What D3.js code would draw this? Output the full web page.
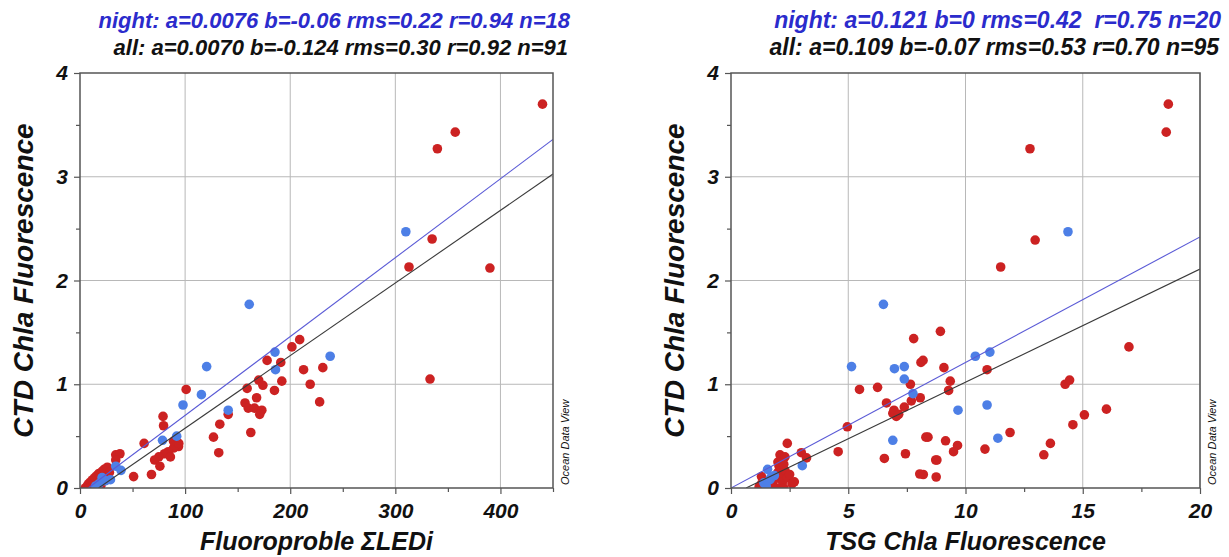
<!DOCTYPE html>
<html><head><meta charset="utf-8">
<script src="https://cdn.jsdelivr.net/npm/d3@7"></script>
<style>body{margin:0;background:#fff}svg{display:block}text{white-space:pre}</style>
</head><body>
<svg id="c" width="1229" height="557"></svg>
<script>
// ---- data ----
const leftNight = [[161,1.77],[310,2.47],[120.5,1.17],[185.5,1.31],[186,1.14],[98,0.80],[115.5,0.90],[141,0.75],[238,1.27],[78.5,0.46],[92,0.50],[34,0.21],[39,0.17],[29,0.08],[24,0.07],[18,0.04],[21,0.10],[15,0.02]];
const leftDay = [[440,3.70],[357,3.43],[340,3.27],[335,2.40],[313,2.13],[390,2.12],[333,1.05],
 [178,1.23],[201.6,1.36],[209,1.43],[191,1.21],[101,0.95],[141,0.71],[159,0.96],[170,1.04],[174,0.99],[192,1.03],[185,0.94],[157,0.82],[160,0.77],[166,0.77],[168,0.87],[173,0.75],[171,0.71],[162.5,0.535],[133,0.615],[127,0.49],[132,0.34],[212.7,1.14],[231,1.16],[219,1.0],[228,0.83],
 [79.5,0.60],[79,0.69],[93.7,0.40],[89,0.385],[84,0.35],[80.4,0.33],[75,0.30],[71,0.27],[76,0.21],[61,0.43],[68,0.13],[51,0.11],[34,0.32],[38,0.33],[34,0.27],[89,0.45],[94,0.43],[86,0.30],
 [5,0.0],[7,0.02],[8,0.04],[9,0.01],[10,0.06],[11,0.03],[12,0.08],[13,0.05],[14,0.10],[15,0.0],[16,0.12],[17,0.07],[18,0.14],[19,0.10],[20,0.03],[21,0.16],[22,0.12],[23,0.18],[25,0.09],[26,0.20],[12,0.0],[19,0.0],[28,0.15]];
const rightNight = [[6.5,1.77],[14.37,2.47],[5.14,1.17],[6.97,1.15],[7.39,1.17],[7.39,1.05],[7.76,0.91],[6.9,0.46],[3.04,0.215],[1.56,0.18],[1.7,0.10],[10.42,1.27],[11.04,1.31],[9.68,0.75],[10.92,0.80],[11.38,0.48],[1.4,0.05],[1.66,0.08],[1.85,0.12],[1.5,0.02]];
const rightDay = [[18.65,3.70],[18.56,3.43],[12.75,3.27],[12.97,2.39],[11.5,2.13],
 [7.79,1.44],[8.19,1.23],[8.1,1.21],[7.65,1.0],[5.48,0.95],[6.25,0.97],[6.63,0.82],[8.07,0.87],[7.69,0.84],[7.39,0.78],[6.9,0.72],[7.05,0.69],[6.95,0.75],[7.15,0.71],[4.96,0.59],[8.4,0.49],[4.57,0.35],[6.54,0.285],[7.44,0.33],[8.2,0.13],[8.75,0.106],[8.78,0.27],[3.0,0.34],[3.22,0.29],[2.4,0.43],[2.09,0.32],[2.3,0.30],[2.05,0.21],
 [8.93,1.51],[9.08,1.16],[10.92,1.14],[9.35,1.03],[9.28,0.94],[14.25,1.0],[14.44,1.04],[16.97,1.36],[16.01,0.76],[15.07,0.705],[14.58,0.61],[8.31,0.49],[11.9,0.535],[9.15,0.455],[9.66,0.41],[9.49,0.35],[10.83,0.375],[13.62,0.43],[13.34,0.32],[8.73,0.27],[8.05,0.135],
 [1.2,0.01],[1.3,0.04],[1.4,0.0],[1.5,0.03],[1.6,0.0],[1.75,0.05],[1.8,0.02],[1.9,0.09],[2.0,0.15],[2.1,0.20],[2.15,0.12],[2.2,0.06],[2.3,0.17],[2.4,0.10],[2.5,0.13],[2.6,0.04],[2.7,0.06],[1.95,0.0],[2.25,0.0],[1.3,0.11],[2.0,0.25],[2.25,0.23]];
const leftXTicks = [0,100,200,300,400];
const leftXMinor = [50,150,250,350,450];
const rightXTicks = [0,5,10,15,20];
const rightXMinor = [2.5,7.5,12.5,17.5];
const yTicks = [0,1,2,3,4];
const yMinor = [0.5,1.5,2.5,3.5];
const leftFit = {night:[0.0076,-0.06], all:[0.0070,-0.124]};
const rightFit = {night:[0.121,0], all:[0.109,-0.07]};
const leftTitles = ["night: a=0.0076 b=-0.06 rms=0.22 r=0.94 n=18","all: a=0.0070 b=-0.124 rms=0.30 r=0.92 n=91"];
const rightTitles = ["night: a=0.121 b=0 rms=0.42  r=0.75 n=20","all: a=0.109 b=-0.07 rms=0.53 r=0.70 n=95"];

// ---- drawing ----
const svg = d3.select("#c");
const FONT = "'Liberation Sans', Arial, sans-serif";
const RED = "#cc2222", BLUE = "#4d7fe6";
const TOP = 73, BOT = 488;

function panel(cfg){
  const x = d3.scaleLinear().domain(cfg.xdom).range(cfg.xr);
  const y = d3.scaleLinear().domain([0,4]).range([BOT,TOP]);
  const g = svg.append("g");
  const clipId = "clip"+cfg.id;
  svg.append("clipPath").attr("id",clipId).append("rect")
    .attr("x",cfg.xr[0]).attr("y",TOP).attr("width",cfg.xr[1]-cfg.xr[0]).attr("height",BOT-TOP);
  // grid
  g.selectAll(".gx").data(cfg.xt.filter(v=>v>cfg.xdom[0])).join("line")
    .attr("x1",d=>x(d)).attr("x2",d=>x(d)).attr("y1",TOP).attr("y2",BOT)
    .attr("stroke","#b8b8b8").attr("stroke-width",1);
  g.selectAll(".gy").data(yTicks.filter(v=>v>0&&v<4)).join("line")
    .attr("y1",d=>y(d)).attr("y2",d=>y(d)).attr("x1",cfg.xr[0]).attr("x2",cfg.xr[1])
    .attr("stroke","#b8b8b8").attr("stroke-width",1);
  // axes
  const xAx = d3.axisBottom(x).tickValues(cfg.xt).tickSize(6).tickPadding(9).tickFormat(d3.format("d"));
  const xAxMin = d3.axisBottom(x).tickValues(cfg.xm).tickSize(4).tickFormat("");
  const yAx = d3.axisLeft(y).tickValues(yTicks).tickSize(6).tickPadding(6).tickFormat(d3.format("d"));
  const yAxMin = d3.axisLeft(y).tickValues(yMinor).tickSize(4).tickFormat("");
  [ [xAx,`translate(0,${BOT})`],[xAxMin,`translate(0,${BOT})`],[yAx,`translate(${cfg.xr[0]},0)`],[yAxMin,`translate(${cfg.xr[0]},0)`] ].forEach(([a,t])=>{
    const ag = g.append("g").attr("transform",t).call(a);
    ag.select(".domain").remove();
    ag.selectAll("line").attr("stroke","#555").attr("stroke-width",1.2);
    ag.selectAll("text").attr("font-family",FONT).attr("font-weight","bold").attr("font-style","italic")
      .attr("font-size",21).attr("fill","#111");
  });
  // points
  const pts = g.append("g").attr("clip-path",`url(#${clipId})`);
  pts.selectAll(".r").data(cfg.day).join("circle").attr("cx",d=>x(d[0])).attr("cy",d=>y(d[1])).attr("r",4.8).attr("fill",RED);
  pts.selectAll(".b").data(cfg.night).join("circle").attr("cx",d=>x(d[0])).attr("cy",d=>y(d[1])).attr("r",4.8).attr("fill",BLUE);
  // fit lines
  const line = (ab,col)=>{
    const [a,b]=ab; const x0 = Math.max(cfg.xdom[0], -b/a), x1 = cfg.xdom[1];
    pts.append("line").attr("x1",x(x0)).attr("y1",y(a*x0+b)).attr("x2",x(x1)).attr("y2",y(a*x1+b))
      .attr("stroke",col).attr("stroke-width",1.1);
  };
  line(cfg.fit.all,"#3a3a3a");
  line(cfg.fit.night,"#5a5ad6");
  // frame
  g.append("rect").attr("x",cfg.xr[0]).attr("y",TOP).attr("width",cfg.xr[1]-cfg.xr[0]).attr("height",BOT-TOP)
    .attr("fill","none").attr("stroke","#555").attr("stroke-width",1.5);
  // titles
  g.append("text").attr("x",cfg.tx).attr("y",28).attr("text-anchor","end").attr("font-family",FONT)
    .attr("font-weight","bold").attr("font-style","italic").attr("font-size",cfg.tfs).attr("fill","#2b2bcc").text(cfg.titles[0]);
  g.append("text").attr("x",cfg.tx-2).attr("y",55).attr("text-anchor","end").attr("font-family",FONT)
    .attr("font-weight","bold").attr("font-style","italic").attr("font-size",cfg.tfs).attr("fill","#111").text(cfg.titles[1]);
  // axis titles
  g.append("text").attr("transform",`translate(${cfg.xr[0]-47},${(TOP+BOT)/2}) rotate(-90)`).attr("text-anchor","middle")
    .attr("font-family",FONT).attr("font-weight","bold").attr("font-style","italic").attr("font-size",28).attr("fill","#111")
    .text("CTD Chla Fluorescence");
  g.append("text").attr("x",(cfg.xr[0]+cfg.xr[1])/2).attr("y",550).attr("text-anchor","middle")
    .attr("font-family",FONT).attr("font-weight","bold").attr("font-style","italic").attr("font-size",25).attr("fill","#111")
    .text(cfg.xlabel);
  g.append("text").attr("transform",`translate(${cfg.xr[1]+16},${BOT-3}) rotate(-90)`).attr("text-anchor","start")
    .attr("font-family",FONT).attr("font-style","italic").attr("font-size",11).attr("fill","#111").text("Ocean Data View");
}

panel({id:"L",xdom:[0,450],xr:[80,553],xt:leftXTicks,xm:leftXMinor,day:leftDay,night:leftNight,fit:leftFit,titles:leftTitles,tx:570,tfs:22,xlabel:"Fluoroproble \u03A3LEDi"});
panel({id:"R",xdom:[0,20],xr:[731,1200],xt:rightXTicks,xm:rightXMinor,day:rightDay,night:rightNight,fit:rightFit,titles:rightTitles,tx:1221,tfs:23,xlabel:"TSG Chla Fluorescence"});
</script>
</body></html>
